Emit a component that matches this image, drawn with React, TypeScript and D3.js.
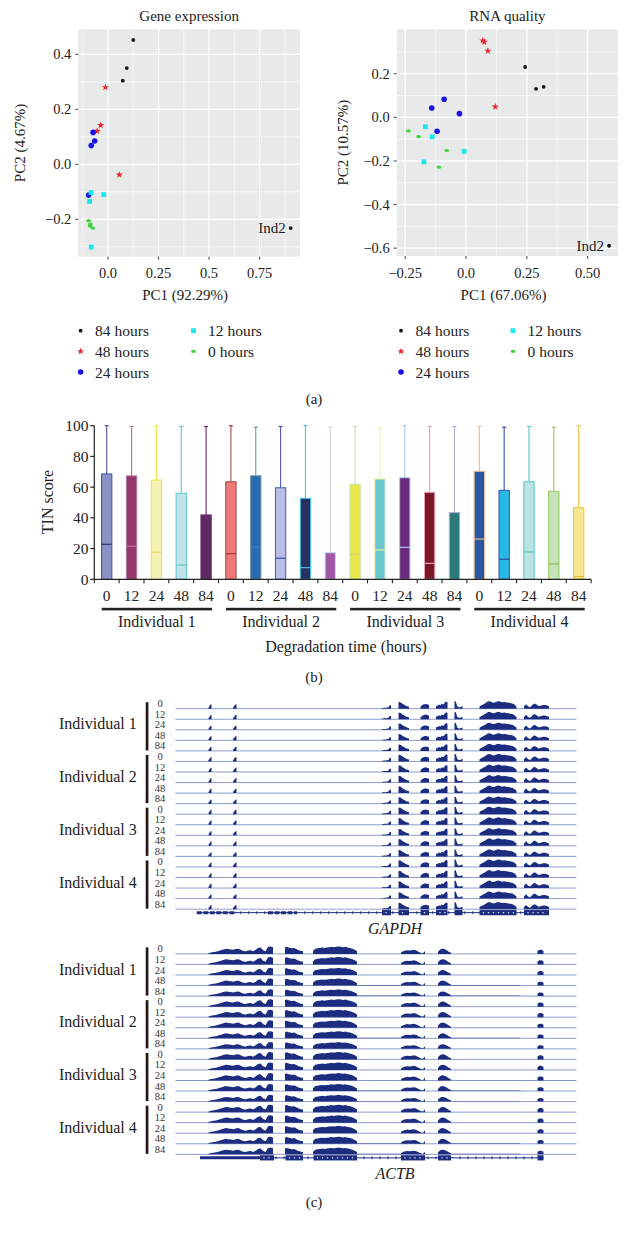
import React from 'react';
import * as d3 from 'd3';

const FONT = "'Liberation Serif', 'DejaVu Serif', serif";

// ---------------- Panel (a): PCA ----------------
const timeGroups = ['84 hours', '48 hours', '24 hours', '12 hours', '0 hours'];
const groupColors = ['#141414', '#e8212b', '#1a12e4', '#19e6ef', '#3bd43b'];
const groupShapes = ['dot', 'star', 'circle', 'square', 'dash'];

// Gene expression PCA (rows follow timeGroups)
const geneExprPC1 = [
  [0.125, 0.093, 0.073, 0.904],
  [-0.013, -0.036, -0.054, 0.056],
  [-0.074, -0.066, -0.083, -0.096],
  [-0.084, -0.021, -0.091, -0.083],
  [-0.096, -0.089, -0.076, -0.087],
];
const geneExprPC2 = [
  [0.452, 0.35, 0.304, -0.232],
  [0.28, 0.142, 0.121, -0.038],
  [0.116, 0.085, 0.068, -0.112],
  [-0.103, -0.11, -0.135, -0.301],
  [-0.205, -0.224, -0.232, -0.217],
];
// RNA quality PCA
const rnaQualPC1 = [
  [0.243, 0.288, 0.319, 0.588],
  [0.069, 0.075, 0.09, 0.12],
  [-0.09, -0.141, -0.027, -0.119],
  [-0.167, -0.139, -0.008, -0.173],
  [-0.237, -0.195, -0.079, -0.111],
];
const rnaQualPC2 = [
  [0.231, 0.131, 0.14, -0.589],
  [0.352, 0.346, 0.305, 0.049],
  [0.083, 0.043, 0.017, -0.064],
  [-0.043, -0.089, -0.156, -0.204],
  [-0.062, -0.088, -0.152, -0.228],
];
const pointLabels84 = ['', '', '', 'Ind2'];

const geneXTicks = [0, 0.25, 0.5, 0.75];
const geneXTickLabels = ['0.0', '0.25', '0.5', '0.75'];
const geneYTicks = [-0.2, 0, 0.2, 0.4];
const geneYTickLabels = ['\u22120.2', '0.0', '0.2', '0.4'];
const geneXMinor = [-0.125, 0.125, 0.375, 0.625, 0.875];
const geneYMinor = [-0.3, -0.1, 0.1, 0.3];

const rnaXTicks = [-0.25, 0, 0.25, 0.5];
const rnaXTickLabels = ['\u22120.25', '0.0', '0.25', '0.50'];
const rnaYTicks = [-0.6, -0.4, -0.2, 0, 0.2];
const rnaYTickLabels = ['\u22120.6', '\u22120.4', '\u22120.2', '0.0', '0.2'];
const rnaXMinor = [-0.125, 0.125, 0.375, 0.625];
const rnaYMinor = [-0.5, -0.3, -0.1, 0.1, 0.3];

// ---------------- Panel (b): TIN box plots ----------------
const timepoints = ['0', '12', '24', '48', '84'];
const individuals = ['Individual 1', 'Individual 2', 'Individual 3', 'Individual 4'];
const tinQ3 = [68.6, 67.3, 64.6, 56, 41.9, 63.5, 67.4, 59.6, 52.7, 17.3, 61.8, 65.3, 66.1, 56.6, 43.4, 70.3, 57.9, 63.5, 57.3, 46.6];
const tinMedian = [22.8, 21.5, 17.6, 9.3, 0, 16.7, 20.8, 13.7, 7.6, 0, 16.3, 19.1, 20.8, 10.4, 0, 26.2, 13, 17.8, 10, 1.8];
const tinQ1 = [0, 0, 0, 0, 0, 0, 0, 0, 0, 0, 0, 0, 0, 0, 0, 0, 0, 0, 0, 0];
const tinWhiskerTop = [100, 99.5, 100, 99.5, 99.5, 100, 99, 99.5, 100, 99, 99.5, 99, 100, 99.5, 99.5, 99.5, 99, 99.5, 99, 100];
const boxFills = ['#8b90c8', '#943a6a', '#f5f2b5', '#c0e4e8', '#5e2a62', '#f07878', '#2a6ab0', '#b8bde5', '#283060', '#a058a8', '#e8e64a', '#68c8d0', '#6a2a7e', '#7a1a24', '#2a7a78', '#2a58a0', '#28b8e8', '#bce2e4', '#c8e2b8', '#f5e890'];
const boxStrokes = ['#4f5594', '#b070a0', '#f0e040', '#5cc8d0', '#6a2a6a', '#a04848', '#6a9aa0', '#4a5ab0', '#40c0e8', '#c8d8e8', '#c8e0b0', '#f0f0a0', '#a8c8e8', '#e8a0c0', '#b0a8d8', '#f0b890', '#2a50b0', '#50c8d0', '#98c860', '#f0c040'];
const medianColors = ['#2a2f6a', '#c07090', '#e8d860', '#60c8d0', '#6a2a6a', '#a03838', '#3a7ac0', '#3a4a9a', '#40c0e8', '#a058a8', '#d0d070', '#f0f0a0', '#a8c8f0', '#e8a0c0', '#2a7a78', '#f0b890', '#2a50a0', '#50c0c8', '#88b850', '#e8b830'];
const tinTicks = [0, 20, 40, 60, 80, 100];

// ---------------- Panel (c): coverage tracks ----------------
const trackSamples = ['0', '12', '24', '48', '84'];
// exon coverage profiles (position units along the locus, relative heights)
const gapdhExons = [
  { start: 33.1, end: 36.1, cov: [0.15, 0.35, 0.55, 0.6] },
  { start: 57.6, end: 61.1, cov: [0.15, 0.35, 0.55, 0.6] },
  { start: 206.6, end: 215.6, cov: [0.1, 0.1, 0.12, 0.12, 0.15, 0.2, 0.45, 0.45] },
  { start: 223.1, end: 233.6, cov: [0.85, 0.9, 0.8, 0.65, 0.55, 0.45, 0.35, 0.3, 0.25] },
  { start: 245.1, end: 253.6, cov: [0.25, 0.45, 0.55, 0.6, 0.62, 0.55, 0.5] },
  { start: 260.6, end: 272.1, cov: [0.35, 0.4, 0.55, 0.45, 0.65, 0.55, 0.75, 0.95, 0.85] },
  { start: 279.1, end: 287.1, cov: [1.0, 0.95, 0.35, 0.2, 0.2, 0.25, 0.35] },
  { start: 304.1, end: 341.1, cov: [0.3, 0.45, 0.6, 0.75, 0.95, 1.0, 0.85, 0.8, 0.9, 1.0, 0.95, 0.85, 0.9, 0.85, 0.8, 0.75, 0.7, 0.55, 0.3] },
  { start: 348.6, end: 373.6, cov: [0.3, 0.6, 0.3, 0.2, 0.5, 0.7, 0.55, 0.35, 0.4, 0.5, 0.5, 0.45, 0.3] },
];
const actbExons = [
  { start: 33.1, end: 97.6, cov: [0.1, 0.2, 0.25, 0.3, 0.4, 0.5, 0.6, 0.7, 0.65, 0.6, 0.55, 0.65, 0.7, 0.55, 0.4, 0.35, 0.45, 0.5, 0.35, 0.55, 0.8, 0.85, 0.5, 0.35, 0.95, 1.0, 0.9] },
  { start: 109.6, end: 127.6, cov: [0.9, 0.95, 0.85, 0.8, 0.75, 0.8, 0.7, 0.55, 0.45, 0.4, 0.35] },
  { start: 137.6, end: 181.6, cov: [0.4, 0.7, 0.75, 0.8, 0.85, 0.8, 0.85, 0.9, 0.95, 0.9, 0.95, 1.0, 0.95, 0.9, 0.95, 0.85, 0.8, 0.7, 0.55, 0.35] },
  { start: 225.6, end: 249.6, cov: [0.2, 0.35, 0.45, 0.5, 0.45, 0.5, 0.55, 0.45, 0.3, 0.15, 0.05, 0.4] },
  { start: 262.6, end: 275.6, cov: [0.3, 0.6, 0.7, 0.65, 0.5, 0.3, 0.15] },
  { start: 362.1, end: 368.1, cov: [0.4, 0.55, 0.55, 0.4] },
];
const gapdhTrackScale = [1, 1, 0.95, 0.95, 0.95, 1, 1, 1, 1, 0.95, 1, 1, 0.95, 1, 0.95, 1, 1, 1, 0.95, 0.95];
const actbTrackScale = [1, 1, 0.95, 0.95, 0.9, 1, 1, 1, 0.95, 0.9, 1, 1, 1, 0.95, 0.9, 1, 1, 1, 0.95, 0.9];
const actbIntronicLevel = [0, 0, 0, 0.06, 0.08, 0, 0, 0, 0.06, 0.03, 0, 0, 0, 0.06, 0.06, 0, 0, 0, 0.06, 0.08];
const actbIntronicRegions = [[181.6, 225.6], [275.6, 345]];
const gapdhIntronicLevel = [0, 0, 0, 0, 0, 0, 0, 0, 0, 0, 0, 0, 0, 0, 0, 0, 0, 0, 0, 0];

const gapdhModel = {
  lineStart: 21.4, lineEnd: 373.6, dashed: true,
  thick: [[21.4, 60.6], [92.6, 121.6]],
  exons: [[206.6, 215.6], [223.1, 233.6], [245.1, 253.6], [260.6, 272.1], [279.1, 287.1], [304.1, 341.1], [348.6, 373.6]],
};
const actbModel = {
  lineStart: 24.6, lineEnd: 368.1, dashed: false,
  thick: [[24.6, 84.6]],
  exons: [[84.6, 98.6], [110.1, 127.6], [138.1, 181.6], [225.6, 249.6], [262.6, 275.6], [362.1, 368.1]],
};

const NAVY = '#1c2d80';
const TRACK_LINE = '#8f9bcc';

function Marker({ shape, color, cx, cy }: any) {
  if (shape === 'dot') return <circle cx={cx} cy={cy} r={1.9} fill={color} />;
  if (shape === 'circle') return <circle cx={cx} cy={cy} r={2.8} fill={color} />;
  if (shape === 'square') return <rect x={cx - 2.4} y={cy - 2.4} width={4.8} height={4.8} fill={color} />;
  if (shape === 'dash') return <ellipse cx={cx} cy={cy} rx={2.4} ry={1.6} fill={color} />;
  const p = d3.symbol().type(d3.symbolStar).size(16)() as string;
  return <path d={p} transform={`translate(${cx},${cy})`} fill={color} />;
}

function Scatter(props: any) {
  const { left, right, top, bottom, xDomain, yDomain, xTicks, xTickLabels, yTicks, yTickLabels, xMinor, yMinor, pc1, pc2, title, xTitle, yTitle, yTitleX } = props;
  const x = d3.scaleLinear().domain(xDomain).range([left, right]);
  const y = d3.scaleLinear().domain(yDomain).range([bottom, top]);
  const cx = (left + right) / 2;
  return (
    <g>
      <text x={cx} y={16} textAnchor="middle" dominantBaseline="central" fontSize={15} fill="#222">{title}</text>
      <rect x={left} y={top} width={right - left} height={bottom - top} fill="#e8eaea" />
      {xMinor.filter((v: number) => x(v) > left && x(v) < right).map((v: number) => (
        <line key={'xm' + v} x1={x(v)} x2={x(v)} y1={top} y2={bottom} stroke="#fff" strokeWidth={0.6} />
      ))}
      {yMinor.filter((v: number) => y(v) > top && y(v) < bottom).map((v: number) => (
        <line key={'ym' + v} x1={left} x2={right} y1={y(v)} y2={y(v)} stroke="#fff" strokeWidth={0.6} />
      ))}
      {xTicks.map((v: number) => (
        <line key={'xM' + v} x1={x(v)} x2={x(v)} y1={top} y2={bottom} stroke="#fff" strokeWidth={1.2} />
      ))}
      {yTicks.map((v: number) => (
        <line key={'yM' + v} x1={left} x2={right} y1={y(v)} y2={y(v)} stroke="#fff" strokeWidth={1.2} />
      ))}
      {xTicks.map((v: number, i: number) => (
        <g key={'xt' + v}>
          <line x1={x(v)} x2={x(v)} y1={bottom} y2={bottom + 3} stroke="#444" strokeWidth={1} />
          <text x={x(v)} y={273} textAnchor="middle" dominantBaseline="central" fontSize={14.5} fill="#222">{xTickLabels[i]}</text>
        </g>
      ))}
      {yTicks.map((v: number, i: number) => (
        <g key={'yt' + v}>
          <line x1={left - 3} x2={left} y1={y(v)} y2={y(v)} stroke="#444" strokeWidth={1} />
          <text x={left - 7} y={y(v)} textAnchor="end" dominantBaseline="central" fontSize={14.5} fill="#222">{yTickLabels[i]}</text>
        </g>
      ))}
      <text x={cx - 4} y={295} textAnchor="middle" dominantBaseline="central" fontSize={15} fill="#222">{xTitle}</text>
      <text transform={`translate(${yTitleX},${(top + bottom) / 2}) rotate(-90)`} textAnchor="middle" dominantBaseline="central" fontSize={15} fill="#222">{yTitle}</text>
      {timeGroups.map((g, gi) =>
        pc1[gi].map((v: number, j: number) => (
          <Marker key={g + j} shape={groupShapes[gi]} color={groupColors[gi]} cx={x(v)} cy={y(pc2[gi][j])} />
        ))
      )}
      {pointLabels84.map((lab, j) => lab ? (
        <text key={'lab' + j} x={x(pc1[0][j]) - 5} y={y(pc2[0][j])} textAnchor="end" dominantBaseline="central" fontSize={15} fill="#222">{lab}</text>
      ) : null)}
    </g>
  );
}

function Legend({ x1, x2 }: any) {
  const rowY = [330.7, 351.3, 372];
  const items = timeGroups.map((g, i) => ({ g, i, col: i < 3 ? 0 : 1, row: i < 3 ? i : i - 3 }));
  return (
    <g>
      {items.map((it) => {
        const mx = it.col === 0 ? x1 : x2;
        const my = rowY[it.row];
        return (
          <g key={it.g}>
            <Marker shape={groupShapes[it.i]} color={groupColors[it.i]} cx={mx} cy={my} />
            <text x={mx + 14.5} y={my} dominantBaseline="central" fontSize={15.5} fill="#222">{it.g}</text>
          </g>
        );
      })}
    </g>
  );
}

function BoxPlot() {
  const ids = d3.range(20);
  const x = d3.scaleBand<number>().domain(ids).range([94.3, 591.1]).paddingInner(0).paddingOuter(0);
  const y = d3.scaleLinear().domain([0, 100]).range([579.3, 425.7]);
  const bw = 10.3;
  const step = x.step();
  const center = (i: number) => (x(i) as number) + step / 2;
  const edges = ids.map((i) => x(i) as number).concat([591.1]);
  return (
    <g>
      {ids.map((i) => {
        const c = center(i);
        return (
          <g key={'box' + i}>
            <line x1={c} x2={c} y1={y(tinQ3[i])} y2={y(tinWhiskerTop[i])} stroke={boxStrokes[i]} strokeWidth={1.1} />
            <line x1={c - 2} x2={c + 2} y1={y(tinWhiskerTop[i])} y2={y(tinWhiskerTop[i])} stroke={boxStrokes[i]} strokeWidth={1.2} />
            <rect x={c - bw / 2} y={y(tinQ3[i])} width={bw} height={y(tinQ1[i]) - y(tinQ3[i])} fill={boxFills[i]} stroke={boxStrokes[i]} strokeWidth={1} />
            {tinMedian[i] > 0 && (
              <line x1={c - bw / 2} x2={c + bw / 2} y1={y(tinMedian[i])} y2={y(tinMedian[i])} stroke={medianColors[i]} strokeWidth={1.2} />
            )}
          </g>
        );
      })}
      <line x1={94.3} x2={94.3} y1={y(100)} y2={y(0)} stroke="#222" strokeWidth={1.2} />
      <line x1={94.3} x2={591.1} y1={y(0)} y2={y(0)} stroke="#222" strokeWidth={1.2} />
      {tinTicks.map((t) => (
        <g key={'yt' + t}>
          <line x1={90.3} x2={94.3} y1={y(t)} y2={y(t)} stroke="#222" strokeWidth={1.2} />
          <text x={88.5} y={y(t)} textAnchor="end" dominantBaseline="central" fontSize={15.5} fill="#222">{t}</text>
        </g>
      ))}
      {edges.map((e, k) => (
        <line key={'xt' + k} x1={e} x2={e} y1={y(0)} y2={y(0) + 4} stroke="#222" strokeWidth={1.1} />
      ))}
      {ids.map((i) => (
        <text key={'xl' + i} x={center(i)} y={595} textAnchor="middle" dominantBaseline="central" fontSize={15.5} fill="#222">{timepoints[i % 5]}</text>
      ))}
      {individuals.map((ind, g) => {
        const a = center(g * 5) - 5;
        const b = center(g * 5 + 4) + 6;
        return (
          <g key={ind}>
            <rect x={a} y={607.8} width={b - a} height={2.6} fill="#222" />
            <text x={(a + b) / 2} y={621.7} textAnchor="middle" dominantBaseline="central" fontSize={16} fill="#222">{ind}</text>
          </g>
        );
      })}
      <text transform="translate(47,502) rotate(-90)" textAnchor="middle" dominantBaseline="central" fontSize={16} fill="#222">TIN score</text>
      <text x={346} y={646} textAnchor="middle" dominantBaseline="central" fontSize={16} fill="#222">Degradation time (hours)</text>
    </g>
  );
}

function Tracks({ top, exons, scale, intronLevel, intronRegions, model, gene }: any) {
  const x = d3.scaleLinear().domain([0, 401]).range([175.4, 576.4]);
  const spacing = 10.55;
  const H = 7.5;
  const baseline = (i: number) => top + i * spacing;
  const modelY = baseline(19) + 3.5;
  const area = (b: number, s: number) =>
    d3.area<{ p: number; v: number }>().x((d) => x(d.p)).y0(b).y1((d) => b - d.v * H * s);
  const inExon = (p: number) => model.exons.some((e: number[]) => p >= e[0] - 1 && p <= e[1] + 1) || model.thick.some((e: number[]) => p >= e[0] - 1 && p <= e[1] + 1);
  const arrowPos = d3.range(model.lineStart + 4, model.lineEnd, 8).filter((p: number) => !inExon(p));
  return (
    <g>
      {d3.range(20).map((t) => {
        const b = baseline(t);
        const s = scale[t];
        return (
          <g key={gene + t}>
            <line x1={x(0)} x2={x(401)} y1={b} y2={b} stroke={TRACK_LINE} strokeWidth={1} />
            {exons.map((e: any, k: number) => {
              const n = e.cov.length;
              const pts = [{ p: e.start, v: 0 }].concat(
                e.cov.map((v: number, j: number) => ({ p: e.start + ((e.end - e.start) * j) / (n - 1), v })),
                [{ p: e.end, v: 0 }]
              );
              return <path key={k} d={area(b, s)(pts) as string} fill={NAVY} />;
            })}
            {intronLevel[t] > 0 && intronRegions.map((r: number[], k: number) => (
              <path key={'i' + k} d={area(b, 1)([{ p: r[0], v: 0 }, { p: r[0], v: intronLevel[t] }, { p: r[1], v: intronLevel[t] }, { p: r[1], v: 0 }]) as string} fill={NAVY} opacity={0.75} />
            ))}
            <text x={160} y={b - 5} textAnchor="middle" dominantBaseline="central" fontSize={10.5} fill="#333">{trackSamples[t % 5]}</text>
          </g>
        );
      })}
      {individuals.map((ind, g) => {
        const b0 = baseline(g * 5);
        const b4 = baseline(g * 5 + 4);
        return (
          <g key={gene + ind}>
            <rect x={145.7} y={b0 - 6.5} width={2.7} height={b4 - 0.5 - (b0 - 6.5)} fill="#231815" />
            <text x={136.7} y={(b0 + b4) / 2 - 6} textAnchor="end" dominantBaseline="central" fontSize={16} fill="#222">{ind}</text>
          </g>
        );
      })}
      <line x1={x(model.lineStart)} x2={x(model.lineEnd)} y1={modelY} y2={modelY} stroke={NAVY} strokeWidth={1} />
      {arrowPos.map((p: number) => (
        <line key={'ar' + p} x1={x(p)} x2={x(p)} y1={modelY - 1.5} y2={modelY + 1.5} stroke={NAVY} strokeWidth={0.9} />
      ))}
      {model.thick.map((e: number[], k: number) => (
        <line key={'th' + k} x1={x(e[0])} x2={x(e[1])} y1={modelY} y2={modelY} stroke={NAVY} strokeWidth={3} strokeDasharray={model.dashed ? '5,1.5' : undefined} />
      ))}
      {model.exons.map((e: number[], k: number) => (
        <g key={'ex' + k}>
          <rect x={x(e[0])} y={modelY - 2.6} width={x(e[1]) - x(e[0])} height={5.2} fill={NAVY} />
          {e[1] - e[0] > 8 && d3.range(e[0] + 4, e[1] - 2, 5).map((p: number) => (
            <rect key={p} x={x(p) - 0.6} y={modelY - 0.6} width={1.2} height={1.2} fill="#fff" />
          ))}
        </g>
      ))}
      <text x={395} y={modelY + 15.5} textAnchor="middle" dominantBaseline="central" fontSize={16} fontStyle="italic" fill="#222">{gene}</text>
    </g>
  );
}

export default function App() {
  return (
    <svg width={629} height={1234} style={{ position: 'absolute', left: 0, top: 0, background: '#fff', fontFamily: FONT }}>
      <rect x={0} y={0} width={629} height={1234} fill="#fff" />
      <Scatter left={78.3} right={300} top={29.3} bottom={256.7} xDomain={[-0.147, 0.95]} yDomain={[-0.336, 0.491]}
        xTicks={geneXTicks} xTickLabels={geneXTickLabels} yTicks={geneYTicks} yTickLabels={geneYTickLabels}
        xMinor={geneXMinor} yMinor={geneYMinor} pc1={geneExprPC1} pc2={geneExprPC2}
        title="Gene expression" xTitle="PC1 (92.29%)" yTitle="PC2 (4.67%)" yTitleX={20} />
      <Scatter left={396.7} right={618.3} top={29.3} bottom={256} xDomain={[-0.285, 0.626]} yDomain={[-0.636, 0.404]}
        xTicks={rnaXTicks} xTickLabels={rnaXTickLabels} yTicks={rnaYTicks} yTickLabels={rnaYTickLabels}
        xMinor={rnaXMinor} yMinor={rnaYMinor} pc1={rnaQualPC1} pc2={rnaQualPC2}
        title="RNA quality" xTitle="PC1 (67.06%)" yTitle="PC2 (10.57%)" yTitleX={343} />
      <Legend x1={80.6} x2={193.5} />
      <Legend x1={401} x2={513} />
      <text x={314} y={399} textAnchor="middle" dominantBaseline="central" fontSize={15} fill="#222">(a)</text>
      <BoxPlot />
      <text x={314} y={677} textAnchor="middle" dominantBaseline="central" fontSize={15} fill="#222">(b)</text>
      <Tracks top={708.7} exons={gapdhExons} scale={gapdhTrackScale} intronLevel={gapdhIntronicLevel} intronRegions={actbIntronicRegions} model={gapdhModel} gene="GAPDH" />
      <Tracks top={953.9} exons={actbExons} scale={actbTrackScale} intronLevel={actbIntronicLevel} intronRegions={actbIntronicRegions} model={actbModel} gene="ACTB" />
      <text x={314} y={1201.7} textAnchor="middle" dominantBaseline="central" fontSize={15} fill="#222">(c)</text>
    </svg>
  );
}
